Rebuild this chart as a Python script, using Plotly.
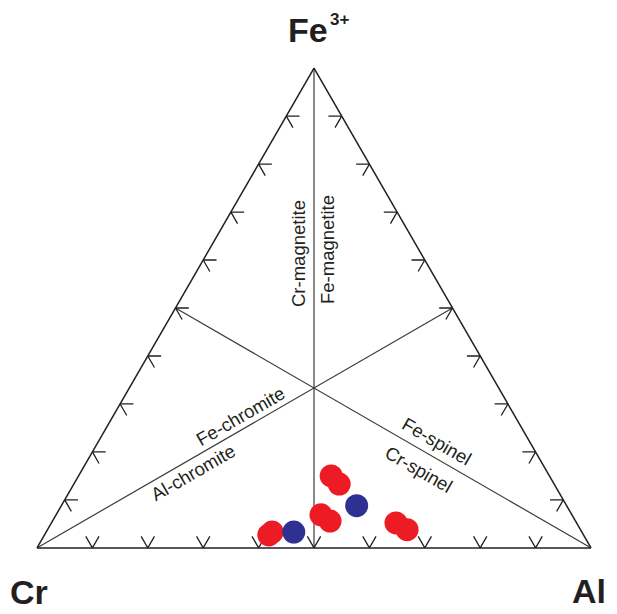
"""Diagramme ternaire Fe3+ - Cr - Al des spinelles."""

import plotly.graph_objects as go

# analyses (Fe3+, Cr, Al en %)
red_fe = [2.7, 3.3, 6.9, 5.6, 15.0, 13.3, 5.2, 3.8]
red_cr = [56.8, 55.9, 45.3, 44.3, 39.4, 38.8, 32.6, 31.3]
red_al = [40.5, 40.8, 47.8, 50.1, 45.6, 47.9, 62.2, 64.9]

blue_fe = [3.3, 8.8]
blue_cr = [52.0, 37.9]
blue_al = [44.7, 53.3]

# lignes sommet -> milieu du coté opposé
median_fe = [100, 0, None, 0, 50, None, 0, 50]
median_cr = [0, 50, None, 100, 0, None, 0, 50]
median_al = [0, 50, None, 0, 50, None, 100, 0]

tick_pct = [10, 20, 30, 40, 50, 60, 70, 80, 90]
TICK_LEN = 2.4

RED = "#ED1C24"
BLUE = "#2E3192"
LINE = "#231F20"
FONT = "Liberation Sans, Arial, sans-serif"


def chevrons():
    fe, cr, al = [], [], []
    L = TICK_LEN
    for t in tick_pct:
        # base Cr-Al (Fe = 0)
        fe += [L, 0, L, None]
        cr += [100 - t - L, 100 - t, 100 - t, None]
        al += [t, t, t - L, None]
        # côté Cr-Fe (Al = 0)
        fe += [t, t, t - L, None]
        cr += [100 - t - L, 100 - t, 100 - t, None]
        al += [L, 0, L, None]
        # côté Fe-Al (Cr = 0)
        fe += [t, t, t - L, None]
        cr += [L, 0, L, None]
        al += [100 - t - L, 100 - t, 100 - t, None]
    return fe, cr, al


fig = go.Figure()

fig.add_trace(go.Scatterternary(
    a=median_fe, b=median_cr, c=median_al, mode="lines",
    line=dict(color="#3a3a3a", width=1.2), hoverinfo="skip",
))

t_fe, t_cr, t_al = chevrons()
fig.add_trace(go.Scatterternary(
    a=t_fe, b=t_cr, c=t_al, mode="lines",
    line=dict(color=LINE, width=1.3), hoverinfo="skip",
))

fig.add_trace(go.Scatterternary(
    a=red_fe, b=red_cr, c=red_al, mode="markers",
    marker=dict(color=RED, size=23, line=dict(width=0)),
    hovertemplate="Fe3+ %{a}<br>Cr %{b}<br>Al %{c}<extra></extra>",
))
fig.add_trace(go.Scatterternary(
    a=blue_fe, b=blue_cr, c=blue_al, mode="markers",
    marker=dict(color=BLUE, size=23, line=dict(width=0)),
    hovertemplate="Fe3+ %{a}<br>Cr %{b}<br>Al %{c}<extra></extra>",
))

_axis = dict(
    showline=True, linecolor=LINE, linewidth=1.5, showgrid=False,
    showticklabels=False, ticks="", title=dict(text=""),
)

# la page a une marge de 8 px autour de la figure (sans défilement)
BODY = 8
W, H = 617 - 2 * BODY, 614 - 2 * BODY
ML, MT = 37 - BODY, 68 - BODY
MR, MB = W - ML - 554, H - MT - 480


def px(x, y):
    """pixel de la fenêtre -> coordonnées papier"""
    return (x - BODY - ML) / (W - ML - MR), (H - MB - (y - BODY)) / (H - MT - MB)


def label(text, x, y, size=18.5, angle=0, bold=False, xanchor="center"):
    xp, yp = px(x, y)
    if bold:
        text = "<b>" + text + "</b>"
    return dict(
        text=text, x=xp, y=yp, xref="paper", yref="paper",
        showarrow=False, textangle=angle, xanchor=xanchor, yanchor="middle",
        font=dict(family=FONT, size=size, color=LINE),
    )


annotations = [
    label("Fe", 308, 30, size=34, bold=True),
    label("3+", 339, 19, size=17, bold=True),
    label("Cr", 29, 592, size=34, bold=True),
    label("Al", 608, 591, size=34, bold=True, xanchor="right"),
    label("Cr-magnetite", 299, 254, angle=-90),
    label("Fe-magnetite", 327, 250, angle=-90),
    label("Fe-chromite", 240, 416, angle=-30),
    label("Al-chromite", 193, 472, angle=-30),
    label("Fe-spinel", 437, 441, angle=30),
    label("Cr-spinel", 419, 469, angle=30),
]

fig.update_layout(
    width=W, height=H, margin=dict(l=ML, r=MR, t=MT, b=MB),
    paper_bgcolor="white", showlegend=False,
    ternary=dict(
        sum=100, bgcolor="white",
        aaxis=_axis, baxis=_axis, caxis=_axis,
    ),
    annotations=annotations,
)

fig.write_html("out.html")
